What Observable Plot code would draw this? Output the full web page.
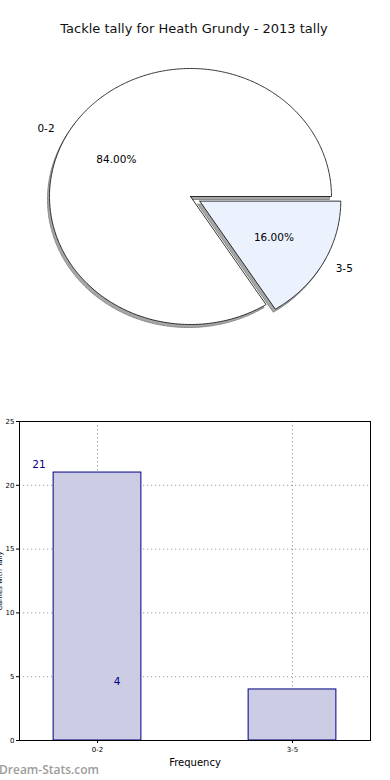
<!DOCTYPE html>
<html>
<head>
<meta charset="utf-8">
<script src="https://cdn.jsdelivr.net/npm/d3@7"></script>
<script src="https://cdn.jsdelivr.net/npm/@observablehq/plot@0.6"></script>
<style>
  html, body { margin: 0; padding: 0; background: #fff; }
  body { width: 390px; height: 780px; position: relative; overflow: hidden; font-family: "DejaVu Sans", sans-serif; }
  #title { position: absolute; top: 21px; left: 0; width: 388px; text-align: center; font-size: 13px; color: #111; }
  #pie { position: absolute; top: 0; left: 0; }
  #bar { position: absolute; top: 410px; left: 0; }
  #wm { position: absolute; left: -1px; top: 761px; font-family: "Open Sans", sans-serif; font-size: 12px; font-weight: 600; color: #9c9c9c; }
</style>
</head>
<body>
<div id="title">Tackle tally for Heath Grundy - 2013 tally</div>
<div id="pie"></div>
<div id="bar"></div>
<div id="wm">Dream-Stats.com</div>
<script>
// ---- data ----
const categories = ["0-2", "3-5"];
const counts = [21, 4];
const explode = [0, 0.075];
const yTicks = [0, 5, 10, 15, 20, 25];

// ---- styles ----
const sliceFill = ["#ffffff", "#ebf1fd"];
const total = d3.sum(counts);

// ---- pie (matplotlib style: start at 0°, counter-clockwise) ----
const slices = [];
let acc = 0;
categories.forEach((c, i) => {
  const frac = counts[i] / total;
  const a0 = acc * 2 * Math.PI, a1 = (acc + frac) * 2 * Math.PI;
  acc += frac;
  const mid = (a0 + a1) / 2;
  const ox = explode[i] * Math.cos(mid), oy = explode[i] * Math.sin(mid);
  const pts = [{x: ox, y: oy, k: c}];
  const n = Math.max(2, Math.ceil((a1 - a0) / 0.01));
  for (let j = 0; j <= n; j++) {
    const a = a0 + (a1 - a0) * j / n;
    pts.push({x: ox + Math.cos(a), y: oy + Math.sin(a), k: c});
  }
  pts.push({x: ox, y: oy, k: c});
  slices.push({cat: c, i, frac, mid, ox, oy, pts});
});

const W = 390, H = 400, cx = 190, cy = 196, rx = 141, ry = 128;
const pieMarks = [];
slices.forEach(s => {
  pieMarks.push(Plot.line(s.pts, {x: "x", y: "y", fill: "#8a8a8a", fillOpacity: 0.75, stroke: "#8a8a8a", strokeWidth: 1, dx: -2, dy: 3, curve: "linear"}));
});
slices.forEach(s => {
  pieMarks.push(Plot.line(s.pts, {x: "x", y: "y", fill: sliceFill[s.i], stroke: "#000", strokeWidth: 0.8, curve: "linear"}));
});
const labels = slices.map(s => ({
  x: s.ox + 1.1 * Math.cos(s.mid), y: s.oy + 1.1 * Math.sin(s.mid),
  px: s.ox + 0.6 * Math.cos(s.mid), py: s.oy + 0.6 * Math.sin(s.mid),
  cat: s.cat, pct: (s.frac * 100).toFixed(2) + "%",
  anchor: Math.cos(s.mid) < 0 ? "end" : "start"
}));
pieMarks.push(Plot.text(labels.filter(d => d.anchor === "end"), {x: "x", y: "y", text: "cat", textAnchor: "end", fontSize: 10.5, fill: "#000"}));
pieMarks.push(Plot.text(labels.filter(d => d.anchor === "start"), {x: "x", y: "y", text: "cat", textAnchor: "start", fontSize: 10.5, fill: "#000"}));
pieMarks.push(Plot.text(labels, {x: "px", y: "py", text: "pct", fontSize: 10.5, fill: "#000"}));

const pie = Plot.plot({
  width: W, height: H,
  margin: 0,
  style: {fontFamily: "DejaVu Sans, sans-serif", background: "transparent"},
  x: {domain: [-cx / rx, (W - cx) / rx], range: [0, W], axis: null},
  y: {domain: [-(H - cy) / ry, cy / ry], range: [H, 0], axis: null},
  marks: pieMarks
});
document.getElementById("pie").appendChild(pie);

// ---- bar chart ----
const bars = categories.map((c, i) => ({cat: c, i, count: counts[i], lx: i * 0.4 - 0.3}));
const bar = Plot.plot({
  width: 390, height: 370,
  marginTop: 11, marginBottom: 40, marginLeft: 19, marginRight: 20,
  style: {fontFamily: "DejaVu Sans, sans-serif", fontSize: "7px", color: "#000", background: "transparent"},
  x: {domain: [-0.4, 1.4]},
  y: {domain: [0, 25]},
  marks: [
    Plot.ruleY(yTicks, {y: d => d, stroke: "#999", strokeDasharray: "1.2,2.8", strokeWidth: 1}),
    Plot.ruleX(bars, {x: "i", stroke: "#999", strokeDasharray: "1.2,2.8", strokeWidth: 1}),
    Plot.rectY(bars, {x1: d => d.i - 0.225, x2: d => d.i + 0.225, y1: 0, y2: "count", fill: "#ccccE5", stroke: "#000080", strokeWidth: 1}),
    Plot.text(bars, {x: "lx", y: "count", text: d => String(d.count), dy: -8, fill: "#000080", fontSize: 10.5}),
    Plot.frame({stroke: "#000", strokeWidth: 1}),
    Plot.axisY({ticks: yTicks, tickSize: 3, tickPadding: 2, fontSize: 7, label: "Games with Tally", labelAnchor: "center", labelArrow: "none", labelOffset: 22, tickFormat: d => d}),
    Plot.axisX({ticks: [0, 1], tickSize: 3, tickPadding: 4, fontSize: 7, tickFormat: i => categories[i], label: null}),
    Plot.text(["Frequency"], {frameAnchor: "bottom", dy: 25, fontSize: 10, fill: "#000"})
  ]
});
document.getElementById("bar").appendChild(bar);
</script>
</body>
</html>
